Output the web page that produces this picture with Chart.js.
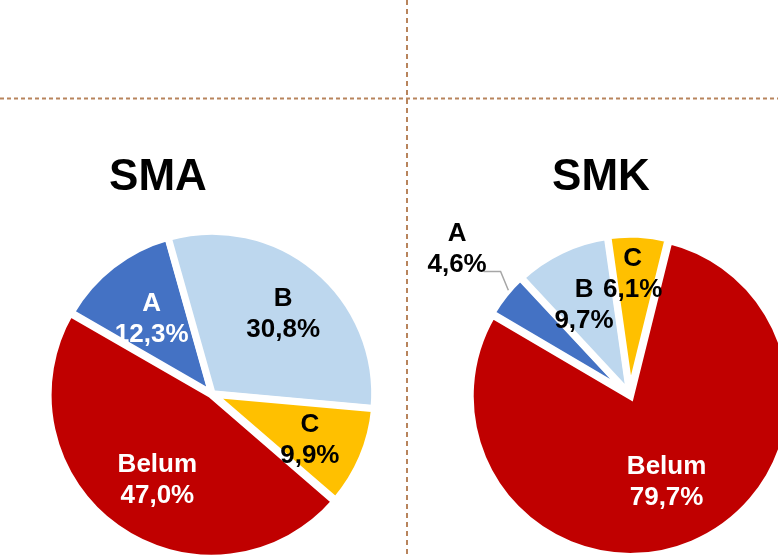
<!DOCTYPE html>
<html><head><meta charset="utf-8">
<script src="https://cdn.jsdelivr.net/npm/chart.js@4/dist/chart.umd.min.js"></script>
<style>
html,body{margin:0;padding:0;background:#fff;}
#wrap{position:relative;width:778px;height:556px;overflow:hidden;background:#fff;}
canvas{position:absolute;left:0;top:0;}
</style></head><body>
<div id="wrap"><canvas id="c1" width="778" height="556"></canvas><canvas id="c2" width="778" height="556"></canvas></div>
<script>
// ---- data ----
const categories = ['A', 'B', 'C', 'Belum'];
const smaValues = [12.3, 30.8, 9.9, 47.0];
const smkValues = [4.6, 9.7, 6.1, 79.7];
const chartTitles = ['SMA', 'SMK'];

// ---- styles ----
const sliceColors = ['#4472C4', '#BDD7EE', '#FFC000', '#C00000'];
const labelColors = {
  SMA: ['#FFFFFF', '#000000', '#000000', '#FFFFFF'],
  SMK: ['#000000', '#000000', '#000000', '#FFFFFF']
};
const FONT = '"Liberation Sans", Arial, sans-serif';

function fmt(v) { return v.toFixed(1).replace('.', ',') + '%'; }

// label placement: radial fraction of radius, angular tweak (deg)
const labelPlace = {
  SMA: [{f: 0.585, a: -1}, {f: 0.652, a: 2}, {f: 0.652, a: 2}, {f: 0.603, a: -3}],
  SMK: [{f: 1.40, a: 1.5, leader: true}, {f: 0.62, a: -1.4}, {f: 0.733, a: -1.6}, {f: 0.562, a: 0}]
};

const labelPlugin = {
  id: 'pieLabels',
  afterDatasetsDraw(chart, args, opts) {
    const ctx = chart.ctx;
    const key = opts.key;
    const meta = chart.getDatasetMeta(0);
    const ds = chart.data.datasets[0];
    ctx.save();
    ctx.font = 'bold 26px ' + FONT;
    ctx.textAlign = 'center';
    ctx.textBaseline = 'middle';
    meta.data.forEach((arc, i) => {
      const p = arc.getProps(['x', 'y', 'startAngle', 'endAngle', 'outerRadius'], true);
      const off = arc.options.offset || 0;
      const mid = (p.startAngle + p.endAngle) / 2;
      const pl = labelPlace[key][i];
      const ang = mid + pl.a * Math.PI / 180;
      const d = off + pl.f * p.outerRadius;
      const cx = p.x + Math.cos(ang) * d;
      const cy = p.y + Math.sin(ang) * d;
      const t2 = fmt(ds.data[i]);
      if (pl.leader) {
        const w = ctx.measureText(t2).width;
        const bw = arc.options.borderWidth || 0;
        const ox = p.x + Math.cos(mid) * off, oy = p.y + Math.sin(mid) * off;
        const a1 = mid + 2 * Math.PI / 180;
        const sx = ox + Math.cos(a1) * (p.outerRadius - bw / 2 + 1);
        const sy = oy + Math.sin(a1) * (p.outerRadius - bw / 2 + 1);
        const a2 = mid + 5 * Math.PI / 180;
        const kx = ox + Math.cos(a2) * p.outerRadius * 1.10;
        const ky = oy + Math.sin(a2) * p.outerRadius * 1.10;
        ctx.beginPath();
        ctx.strokeStyle = '#A6A6A6';
        ctx.lineWidth = 1.5;
        ctx.moveTo(sx, sy);
        ctx.lineTo(kx, ky);
        ctx.lineTo(cx + w / 2 - 3, ky);
        ctx.stroke();
      }
      ctx.fillStyle = labelColors[key][i];
      ctx.fillText(chart.data.labels[i], cx, cy - 15);
      ctx.fillText(t2, cx, cy + 16);
    });
    ctx.restore();
  }
};

const framePlugin = {
  id: 'frame',
  beforeDraw(chart, args, opts) {
    if (!opts.draw) return;
    const ctx = chart.ctx;
    ctx.save();
    ctx.strokeStyle = '#B8845C';
    ctx.lineWidth = 2;
    ctx.setLineDash([4, 3]);
    ctx.beginPath();
    ctx.moveTo(0, 98.5); ctx.lineTo(778, 98.5);
    ctx.stroke();
    ctx.setLineDash([5, 4]);
    ctx.beginPath();
    ctx.moveTo(407, 0); ctx.lineTo(407, 556);
    ctx.stroke();
    ctx.restore();
  }
};

const titlePlugin = {
  id: 'pieTitle',
  afterDraw(chart, args, opts) {
    const ctx = chart.ctx;
    ctx.save();
    ctx.font = 'bold 44px ' + FONT;
    ctx.fillStyle = '#000';
    ctx.textAlign = 'center';
    ctx.textBaseline = 'alphabetic';
    ctx.fillText(opts.text, opts.x, opts.y);
    ctx.restore();
  }
};

function makePie(id, key, values, rotation, radius, offsets, padding, titleX, drawFrame) {
  return new Chart(document.getElementById(id), {
    type: 'pie',
    data: {
      labels: categories,
      datasets: [{
        data: values,
        backgroundColor: sliceColors,
        borderColor: '#FFFFFF',
        borderWidth: 7,
        borderJoinStyle: 'miter',
        offset: offsets,
        radius: radius
      }]
    },
    options: {
      responsive: false,
      animation: false,
      events: [],
      radius: radius,
      rotation: rotation,
      layout: { padding: padding },
      plugins: {
        legend: { display: false },
        tooltip: { enabled: false },
        title: { display: false },
        pieLabels: { key: key },
        frame: { draw: drawFrame },
        pieTitle: { text: key, x: titleX, y: 190 }
      }
    },
    plugins: [framePlugin, labelPlugin, titlePlugin]
  });
}

makePie('c1', chartTitles[0], smaValues, -60, 162.5, [1, 1, 2, 4], {left: 0, right: 354, top: 232, bottom: 0}, 158, true);
makePie('c2', chartTitles[1], smkValues, -59.5, 159, [4, 3, 4.5, 5], {left: 482, right: 0, top: 234, bottom: 0}, 601, false);
</script>
</body></html>
